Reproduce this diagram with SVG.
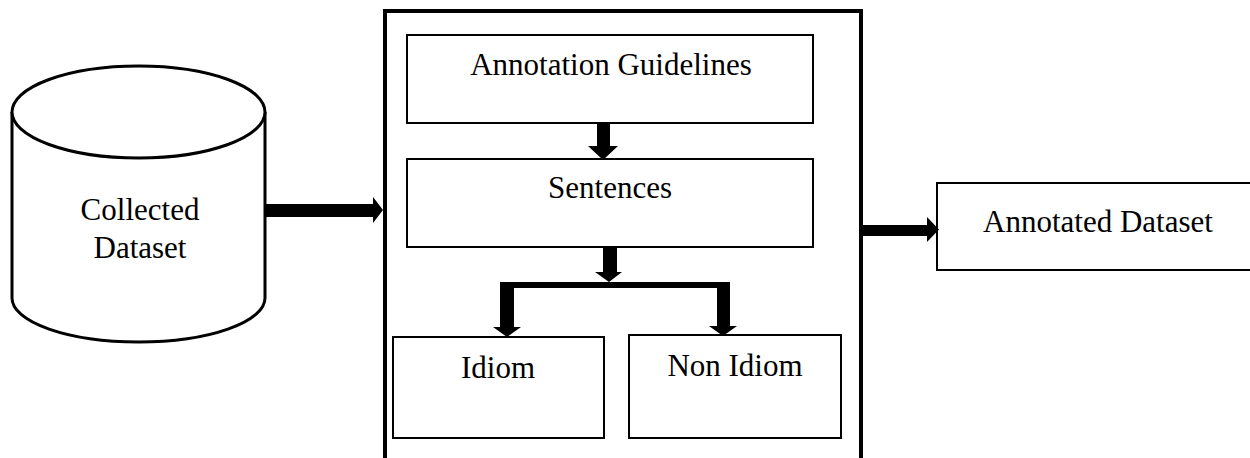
<svg xmlns="http://www.w3.org/2000/svg" width="1250" height="458" viewBox="0 0 1250 458">
  <style>
    .box { fill: #fff; stroke: #000; stroke-width: 2; }
    .frame { fill: none; stroke: #000; stroke-width: 4; }
    .cyl { fill: #fff; stroke: #000; stroke-width: 3; }
    .lbl { font-family: "Liberation Serif", "Times New Roman", serif; font-size: 31px; fill: #000; text-anchor: middle; }
    .arrow { fill: #000; stroke: none; }
  </style>
  <rect width="1250" height="458" fill="#fff"/>

  <!-- container for the annotation process (open at the bottom) -->
  <g id="process">
    <path class="frame" d="M385,462 V11 H861 V462"/>
  </g>

  <g id="collected-dataset">
    <path class="cyl" d="M12,112 V298 A126.5,44 0 0 0 265,298 V112"/>
    <ellipse class="cyl" cx="138.5" cy="112" rx="126.5" ry="46"/>
    <text class="lbl" x="140" y="220">Collected</text>
    <text class="lbl" x="140" y="258">Dataset</text>
  </g>

  <g id="annotation-guidelines">
    <rect class="box" x="407" y="35" width="406" height="88"/>
    <text class="lbl" x="611" y="75">Annotation Guidelines</text>
  </g>

  <g id="sentences">
    <rect class="box" x="407" y="159" width="406" height="88"/>
    <text class="lbl" x="610" y="198">Sentences</text>
  </g>

  <g id="idiom">
    <rect class="box" x="393" y="337" width="211" height="101"/>
    <text class="lbl" x="498" y="378">Idiom</text>
  </g>

  <g id="non-idiom">
    <rect class="box" x="629" y="335" width="212" height="103"/>
    <text class="lbl" x="735" y="376">Non Idiom</text>
  </g>

  <g id="annotated-dataset">
    <path class="box" d="M1252,183 H937 V270 H1252"/>
    <text class="lbl" x="1098" y="232">Annotated Dataset</text>
  </g>

  <!-- block arrows between the stages -->
  <g id="connectors">
    <!-- cylinder to process -->
    <polygon class="arrow" points="265,204 373,204 373,197 383,210 373,223 373,217 265,217"/>
    <!-- guidelines to sentences -->
    <polygon class="arrow" points="597,123 610,123 610,146 618,146 603,160 588,146 597,146"/>
    <!-- sentences to the split -->
    <polygon class="arrow" points="603,247 617,247 617,272 622,272 609,282 595,272 603,272"/>
    <!-- split bar and branches -->
    <rect class="arrow" x="500" y="282" width="230" height="6"/>
    <polygon class="arrow" points="500,282 514,282 514,327 521,327 507,337 493,327 500,327"/>
    <polygon class="arrow" points="717,285 730,285 730,326 737,326 723,336 709,326 717,326"/>
    <!-- process to annotated dataset -->
    <polygon class="arrow" points="861,225 927,225 927,217 939,229.5 927,242 927,236 861,236"/>
  </g>
</svg>
